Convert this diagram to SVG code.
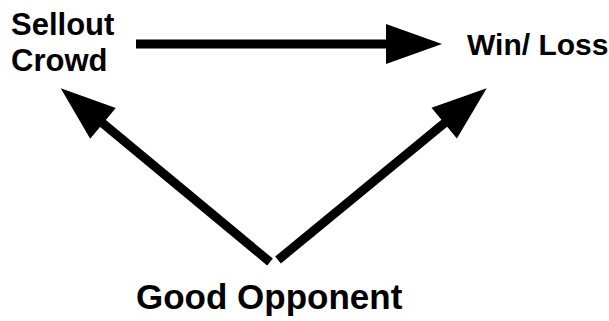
<svg xmlns="http://www.w3.org/2000/svg" width="609" height="321" viewBox="0 0 609 321">
<style>
.lbl{font-family:"Liberation Sans",Arial,sans-serif;font-weight:bold;fill:#000}
.ln{stroke:#000;stroke-width:9;fill:none;stroke-linecap:butt}
.hd{fill:#000}
</style>
<rect width="609" height="321" fill="#fff"/>
<g id="connectors">
<line class="ln" x1="136" y1="44" x2="390" y2="44"/>
<polygon class="hd" points="386,24 386,64 442,44"/>
<line class="ln" x1="270" y1="262" x2="100" y2="121"/>
<polygon class="hd" points="60.7,88.3 115.8,108 90.2,138.8"/>
<line class="ln" x1="278" y1="260" x2="447" y2="121"/>
<polygon class="hd" points="486.7,88.3 431.5,107.8 456.9,138.6"/>
</g>
<g id="sellout-crowd"><text class="lbl" font-size="31" x="11" y="35">Sellout</text><text class="lbl" font-size="31" x="11" y="71">Crowd</text></g>
<g id="win-loss"><text class="lbl" font-size="30" x="467" y="55">Win/ Loss</text></g>
<g id="good-opponent"><text class="lbl" font-size="35" x="136" y="309">Good Opponent</text></g>
</svg>
